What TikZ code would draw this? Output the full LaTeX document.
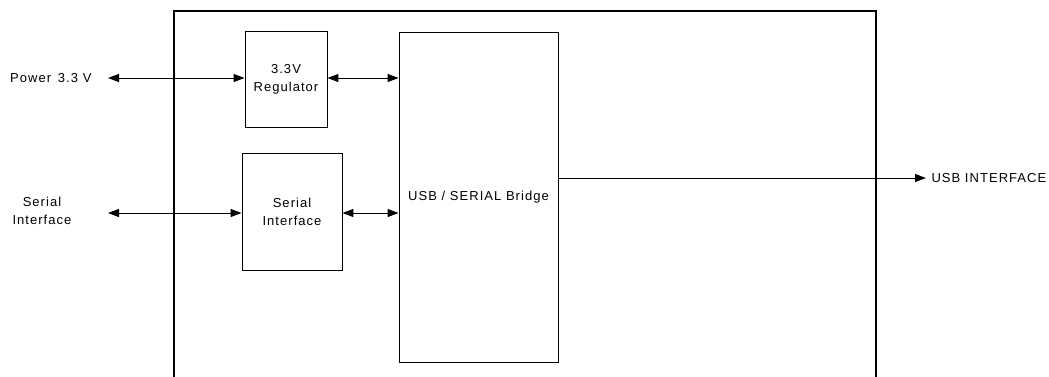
\documentclass[tikz,border=0pt]{standalone}
\usepackage{fontspec}
\setmainfont{Liberation Sans}[LetterSpace=8]
\usetikzlibrary{positioning,arrows.meta}

\begin{document}
\begin{tikzpicture}[x=1pt, y=-1pt,
    usb block/.style={draw, rectangle, line width=0.9pt, align=center, inner sep=0pt},
    usb link/.style={line width=1pt, {Triangle[length=11pt,width=8pt]}-{Triangle[length=11pt,width=8pt]}},
    font=\fontsize{13}{18}\selectfont]
    \clip (0,0) rectangle (1049,376);

    % outer board
    \node[draw, line width=2pt, minimum width=702pt, minimum height=390pt] (board) at (525,206) {};

    \node[usb block, minimum width=82pt, minimum height=96pt] (reg) at (286,79) {3.3V\\Regulator};
    \node[usb block, minimum width=100pt, minimum height=117pt] (ser) at (292,211.5) {Serial\\Interface};
    \node[usb block, minimum width=159pt, minimum height=330pt] (bridge) at (478.5,197) {USB / SERIAL Bridge};

    \node[anchor=east] (pwr) at (95,78) {Power \,3.3 V};
    \node[align=center] (serin) at (42,211) {Serial\\Interface};
    \node[anchor=west] (usb) at (928,178) {USB INTERFACE};

    \coordinate (pwrend) at (108,78);
    \coordinate (serend) at (108,213);

    \draw[usb link] (pwrend) -- (reg.west |- pwrend);
    \draw[usb link] (reg.east |- pwrend) -- (bridge.west |- pwrend);
    \draw[usb link] (serend) -- (ser.west |- serend);
    \draw[usb link] (ser.east |- serend) -- (bridge.west |- serend);
    \draw[line width=1pt, -{Triangle[length=11pt,width=8pt]}] (bridge.east |- usb.west) -- ([xshift=-2pt]usb.west);
\end{tikzpicture}
\end{document}
